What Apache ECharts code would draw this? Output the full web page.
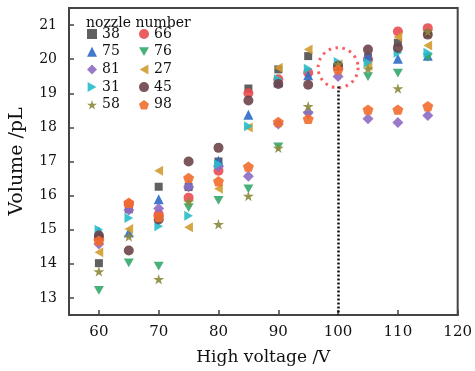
<!DOCTYPE html>
<html>
<head>
<meta charset="utf-8">
<script src="https://cdn.jsdelivr.net/npm/echarts@6/dist/echarts.min.js"></script>
<style>
  html, body { margin: 0; padding: 0; background: #fff; }
  #chart { width: 475px; height: 371px; }
</style>
</head>
<body>
<div id="chart"></div>
<script>
var voltages = [60, 65, 70, 75, 80, 85, 90, 95, 100, 105, 110, 115];
var xTicks = [60, 70, 80, 90, 100, 110, 120];
var yTicks = [13, 14, 15, 16, 17, 18, 19, 20, 21];

// volume per nozzle, one value per voltage
var v38 = [14.02, 15.6, 16.26, 16.25, 17.0, 19.14, 19.7, 20.09, 19.8, 20.05, 20.48, 20.75];
var v66 = [14.75, 15.75, 15.45, 15.94, 16.73, 19.0, 19.41, 19.6, 19.8, 20.0, 20.81, 20.91];
var v75 = [14.95, 14.92, 15.89, 16.35, 17.02, 18.37, 19.32, 19.53, 19.8, 20.11, 20.01, 20.1];
var v76 = [13.22, 14.03, 13.93, 15.65, 15.86, 16.2, 17.43, 18.35, 19.75, 19.49, 19.59, 20.05];
var v81 = [14.58, 15.58, 15.62, 16.26, 16.85, 16.57, 18.1, 18.43, 19.49, 18.25, 18.14, 18.35];
var v27 = [14.34, 15.02, 16.73, 15.07, 16.2, 18.0, 19.75, 20.28, 19.85, 19.8, 20.65, 20.4];
var v31 = [15.0, 15.34, 15.1, 15.41, 16.92, 18.03, 19.41, 19.72, 19.92, 19.9, 20.19, 20.19];
var v45 = [14.83, 14.39, 15.3, 17.0, 17.4, 18.79, 19.27, 19.25, 19.8, 20.28, 20.33, 20.72];
var v58 = [13.78, 14.8, 13.55, 15.82, 15.16, 15.99, 17.4, 18.62, 19.85, 19.72, 19.14, 20.81];
var v98 = [14.68, 15.79, 15.38, 16.52, 16.42, 16.85, 18.16, 18.25, 19.7, 18.52, 18.52, 18.62];

var circleCenter = [100, 19.75];
var markX = 100;
var markTop = 19.2;

var STAR = 'path://M50,0 L61,35 L98,35 L68,57 L79,91 L50,70 L21,91 L32,57 L2,35 L39,35 Z';
var PENTA = 'path://M50,0 L98,35 L79,91 L21,91 L2,35 Z';
var TRI_DOWN = 'path://M0,0 L100,0 L50,87 Z';
var TRI_LEFT = 'path://M87,0 L87,100 L0,50 Z';
var TRI_RIGHT = 'path://M0,0 L87,50 L0,100 Z';
var FONT = 'DejaVu Serif';

var nozzles = [
    { name: '38', data: v38, symbol: 'rect', size: 8, color: '#4f4f4f' },
    { name: '66', data: v66, symbol: 'circle', size: 10, color: '#ea4b50' },
    { name: '75', data: v75, symbol: 'triangle', size: 10, color: '#2c6cc6' },
    { name: '76', data: v76, symbol: TRI_DOWN, size: 10, color: '#34a96b' },
    { name: '81', data: v81, symbol: 'diamond', size: 11, color: '#8e6cc3' },
    { name: '27', data: v27, symbol: TRI_LEFT, size: 10, color: '#d39c30' },
    { name: '31', data: v31, symbol: TRI_RIGHT, size: 10, color: '#27bccb' },
    { name: '45', data: v45, symbol: 'circle', size: 10, color: '#6d4448' },
    { name: '58', data: v58, symbol: STAR, size: 11, color: '#8b8a3c' },
    { name: '98', data: v98, symbol: PENTA, size: 11, color: '#f26b2c' }
];

var series = nozzles.map(n => ({
    name: n.name,
    type: 'scatter',
    symbol: n.symbol,
    symbolSize: n.size,
    symbolKeepAspect: true,
    itemStyle: { color: n.color, opacity: 0.9 },
    data: voltages.map((x, i) => [x, n.data[i]])
}));

// red dotted ring + dotted drop line
series.push({
    name: 'mark',
    type: 'scatter',
    silent: true,
    z: 1,
    symbol: 'circle',
    symbolSize: 40,
    itemStyle: {
        color: 'rgba(0,0,0,0)',
        borderColor: '#f2393c',
        borderWidth: 3,
        borderType: [2.5, 4.5]
    },
    data: [circleCenter],
    markLine: {
        silent: true,
        symbol: ['none', 'none'],
        label: { show: false },
        lineStyle: { color: '#111', width: 2.5, type: [2, 2] },
        data: [[{ coord: [markX, markTop] }, { coord: [markX, 12.5] }]]
    }
});

var legendBase = {
    orient: 'vertical',
    itemWidth: 10,
    itemHeight: 10,
    itemGap: 3.7,
    top: 22,
    symbolKeepAspect: true,
    textStyle: { fontFamily: FONT, fontSize: 14, color: '#111' },
    selectedMode: false
};

var option = {
    backgroundColor: '#fff',
    animation: false,
    title: {
        text: 'nozzle number',
        left: 81,
        top: 11,
        textStyle: { fontFamily: FONT, fontSize: 14, fontWeight: 'normal', color: '#111' }
    },
    legend: [
        Object.assign({}, legendBase, { left: 82, data: ['38', '75', '81', '31', '58'] }),
        Object.assign({}, legendBase, { left: 134, data: ['66', '76', '27', '45', '98'] })
    ],
    grid: {
        left: 62, right: 15, top: 8, bottom: 54,
        show: true, borderColor: '#444', borderWidth: 2
    },
    xAxis: {
        type: 'value',
        min: 55,
        max: 120,
        name: 'High voltage /V',
        nameLocation: 'middle',
        nameGap: 34,
        nameTextStyle: { fontFamily: FONT, fontSize: 17, color: '#111' },
        axisLine: { lineStyle: { color: '#444', width: 2 } },
        axisTick: { inside: true, length: 5, customValues: xTicks, lineStyle: { color: '#444', width: 1.5 } },
        axisLabel: { customValues: xTicks, margin: 10, fontFamily: FONT, fontSize: 15, color: '#111' },
        splitLine: { show: false }
    },
    yAxis: {
        type: 'value',
        min: 12.5,
        max: 21.5,
        name: 'Volume /pL',
        nameLocation: 'middle',
        nameGap: 42,
        nameTextStyle: { fontFamily: FONT, fontSize: 19, color: '#111' },
        axisLine: { lineStyle: { color: '#444', width: 2 } },
        axisTick: { inside: true, length: 5, customValues: yTicks, lineStyle: { color: '#444', width: 1.5 } },
        axisLabel: { customValues: yTicks, margin: 12, fontFamily: FONT, fontSize: 14, color: '#111' },
        splitLine: { show: false }
    },
    series: series
};

var myChart = echarts.init(document.getElementById('chart'));
myChart.setOption(option);
</script>
</body>
</html>
